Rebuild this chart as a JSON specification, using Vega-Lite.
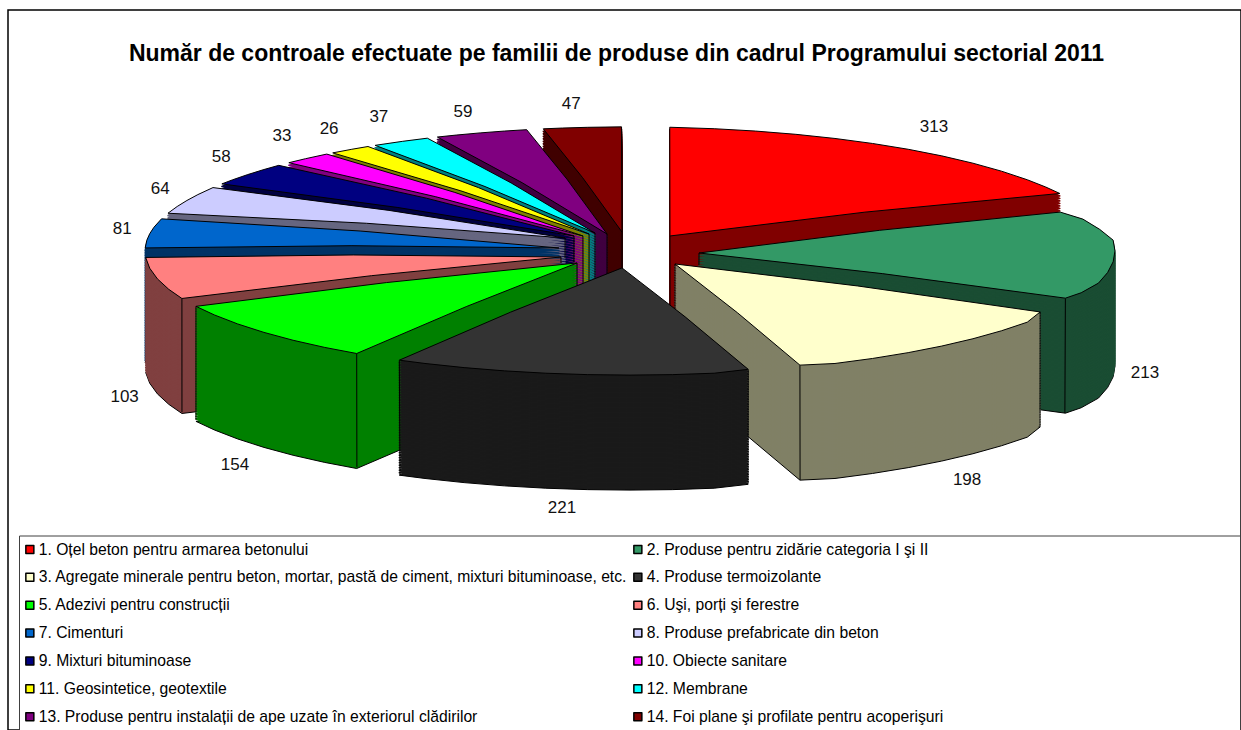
{
"$schema":"https://vega.github.io/schema/vega-lite/v6.json",
"autosize":"none",
"padding":{"left":8,"top":10,"right":0,"bottom":0},
"width":1233,"height":720,
"background":"white",
"view":{"stroke":"black","strokeWidth":1.5},
"title":{"text":"Număr de controale efectuate pe familii de produse din cadrul Programului sectorial 2011","font":"Liberation Sans","fontSize":23,"fontWeight":"bold","color":"black","anchor":"middle","frame":"group","offset":0,"baseline":"middle","dx":-8,"dy":67},
"config":{"view":{"stroke":"black","strokeWidth":1.5},"geoshape":{"strokeJoin":"round","strokeWidth":1.5},"projection":{"type":"orthographic","rotate":[0,-14.83],"scale":9267}},
"datasets":{"slices":[
{"name":"1. Oțel beton pentru armarea betonului","value":313,"labelLon":149.05,"labelLat":86.343,"geo":{"type":"Polygon","coordinates":[[[105.2,89.744],[175.3,87],[170,87],[165,87],[160,87],[155,87],[150,87],[145,87],[140,87],[135,87],[130,87],[125,87],[121,87],[117.6,87],[105.2,89.744]]]}},
{"name":"2. Produse pentru zidărie categoria I şi II","value":213,"labelLon":49.96,"labelLat":85.837,"geo":{"type":"Polygon","coordinates":[[[51.8,89.457],[108.75,87.19],[105,87.1],[100,87.05],[95,87],[90,87],[85,87],[80,87],[75,87],[70,87.03],[66.8,87.07],[51.8,89.457]]]}},
{"name":"3. Agregate minerale pentru beton, mortar, pastă de ciment, mixturi bituminoase, etc.","value":198,"labelLon":23.1,"labelLat":84.68,"geo":{"type":"Polygon","coordinates":[[[25,89.342],[59.65,87.06],[55,87],[50,87],[45,87],[40,87],[35,87],[30,87],[25,87],[20.8,87.04],[25,89.342]]]}},
{"name":"4. Produse termoizolante","value":221,"labelLon":-4.38,"labelLat":84.48,"geo":{"type":"Polygon","coordinates":[[[-4.1,89.308],[14.3,87.04],[10,87],[5,87],[0,87],[-5,87],[-10,87],[-15,87],[-20,87],[-25,87],[-28.4,87],[-4.1,89.308]]]}},
{"name":"5. Adezivi pentru construcții","value":154,"labelLon":-28.06,"labelLat":84.8,"geo":{"type":"Polygon","coordinates":[[[-29.8,89.341],[-34.3,87],[-39,87],[-44,87],[-49,87],[-54,87],[-59,87],[-63.5,87],[-29.8,89.341]]]}},
{"name":"6. Uşi, porți şi ferestre","value":103,"labelLon":-44.58,"labelLat":85.544,"geo":{"type":"Polygon","coordinates":[[[-44.8,89.394],[-67.5,87],[-72,87],[-77,87],[-82,87],[-87,87],[-44.8,89.394]]]}},
{"name":"7. Cimenturi","value":81,"labelLon":-100.26,"labelLat":86.808,"geo":{"type":"Polygon","coordinates":[[[-63.8,89.51],[-91.4,87],[-95,87],[-98,87],[-101,87],[-105,87],[-63.8,89.51]]]}},
{"name":"8. Produse prefabricate din beton","value":64,"labelLon":-118.2,"labelLat":86.703,"geo":{"type":"Polygon","coordinates":[[[-93.2,89.598],[-107.7,87],[-111,87],[-114,87],[-117,87],[-120.7,87],[-93.2,89.598]]]}},
{"name":"9. Mixturi bituminoase","value":58,"labelLon":-133.1,"labelLat":86.536,"geo":{"type":"Polygon","coordinates":[[[-101.3,89.647],[-122.7,87],[-125,87],[-128,87],[-131,87],[-133.6,87],[-101.3,89.647]]]}},
{"name":"10. Obiecte sanitare","value":33,"labelLon":-143.5,"labelLat":86.38,"geo":{"type":"Polygon","coordinates":[[[-103.2,89.701],[-135.3,87],[-138,87],[-141.3,87],[-103.2,89.701]]]}},
{"name":"11. Geosintetice, geotextile","value":26,"labelLon":-148.94,"labelLat":86.392,"geo":{"type":"Polygon","coordinates":[[[-114.5,89.722],[-142.2,87],[-145,87],[-147.3,87],[-114.5,89.722]]]}},
{"name":"12. Membrane","value":37,"labelLon":-155.43,"labelLat":86.263,"geo":{"type":"Polygon","coordinates":[[[-122.7,89.743],[-148.3,87],[-152,87],[-155.3,87],[-122.7,89.743]]]}},
{"name":"13. Produse pentru instalații de ape uzate în exteriorul clădirilor","value":59,"labelLon":-163.53,"labelLat":86.354,"geo":{"type":"Polygon","coordinates":[[[-128.8,89.818],[-156.6,87],[-159,87],[-162,87],[-165,87],[-167.7,87],[-128.8,89.818]]]}},
{"name":"14. Foi plane şi profilate pentru acoperişuri","value":47,"labelLon":-174.4,"labelLat":86.27,"geo":{"type":"Polygon","coordinates":[[[-163,89.831],[-169.7,87],[-172,87],[-175,87],[-179,87],[-163,89.831]]]}}
],
"edges":[
{"geo":{"type":"LineString","coordinates":[[66.8,87.07],[37.1,85.538]]}},
{"geo":{"type":"LineString","coordinates":[[59.65,87.06],[33.4,85.39]]}},
{"geo":{"type":"LineString","coordinates":[[20.8,87.04],[11.94,84.911]]}},
{"geo":{"type":"LineString","coordinates":[[14.3,87.04],[8.2,84.88]]}},
{"geo":{"type":"LineString","coordinates":[[-28.4,87],[-16.31,84.93]]}},
{"geo":{"type":"LineString","coordinates":[[-34.3,87],[-19.78,85.004]]}},
{"geo":{"type":"LineString","coordinates":[[-63.5,87],[-36.04,85.434]]}},
{"geo":{"type":"LineString","coordinates":[[-67.5,87],[-38.17,85.513]]}},
{"geo":{"type":"LineString","coordinates":[[105.2,89.744],[8.85,88.392]]}},
{"geo":{"type":"LineString","coordinates":[[51.8,89.457],[34.7,89.251]]}},
{"geo":{"type":"LineString","coordinates":[[25,89.342],[9.67,88.345]]}},
{"geo":{"type":"LineString","coordinates":[[-163,89.831],[-4.1,89.308]]}},
{"geo":{"type":"LineString","coordinates":[[-128.8,89.818],[-9,89.092]]}},
{"geo":{"type":"LineString","coordinates":[[-122.7,89.743],[-12.09,88.967]]}},
{"geo":{"type":"LineString","coordinates":[[-114.5,89.722],[-13.24,88.893]]}},
{"geo":{"type":"LineString","coordinates":[[-103.2,89.701],[-14.5,88.841]]}},
{"geo":{"type":"LineString","coordinates":[[-101.3,89.647],[-32.3,89.351]]}},
{"geo":{"type":"LineString","coordinates":[[-93.2,89.598],[-41.5,89.394]]}},
{"geo":{"type":"LineString","coordinates":[[-29.8,89.341],[-16.6,88.854]]}},
{"geo":{"type":"LineString","coordinates":[[-44.8,89.394],[-36.8,89.288]]}}
]},
"data":{"name":"slices"},
"layer":[
{"encoding":{"shape":{"field":"geo","type":"geojson"},
 "fill":{"field":"name","type":"nominal","sort":null,"legend":null,"scale":{"range":["#800000","#1a4d33","#808066","#1a1a1a","#008000","#804040","#003366","#666680","#000040","#800080","#808000","#008080","#400040","#400000"]}},
 "stroke":{"field":"name","type":"nominal","sort":null,"legend":null,"scale":{"range":["#800000","#1a4d33","#808066","#1a1a1a","#008000","#804040","#003366","#666680","#000040","#800080","#808000","#008080","#400040","#400000"]}}},
"layer":[
{"mark":{"type":"geoshape","stroke":"black","strokeWidth":1},"encoding":{"stroke":{"value":"black"}},"projection":{"translate":[622,9302],"precision":0.701}},
{"mark":"geoshape","projection":{"translate":[622,9299.5],"precision":0.702}},
{"mark":"geoshape","projection":{"translate":[622,9297],"precision":0.703}},
{"mark":"geoshape","projection":{"translate":[622,9294.5],"precision":0.704}},
{"mark":"geoshape","projection":{"translate":[622,9292],"precision":0.705}},
{"mark":"geoshape","projection":{"translate":[622,9289.5],"precision":0.706}},
{"mark":"geoshape","projection":{"translate":[622,9287],"precision":0.707}},
{"mark":"geoshape","projection":{"translate":[622,9284.5],"precision":0.708}},
{"mark":"geoshape","projection":{"translate":[622,9282],"precision":0.709}},
{"mark":"geoshape","projection":{"translate":[622,9279.5],"precision":0.71}},
{"mark":"geoshape","projection":{"translate":[622,9277],"precision":0.711}},
{"mark":"geoshape","projection":{"translate":[622,9274.5],"precision":0.712}},
{"mark":"geoshape","projection":{"translate":[622,9272],"precision":0.713}},
{"mark":"geoshape","projection":{"translate":[622,9269.5],"precision":0.714}},
{"mark":"geoshape","projection":{"translate":[622,9267],"precision":0.715}},
{"mark":"geoshape","projection":{"translate":[622,9264.5],"precision":0.716}},
{"mark":"geoshape","projection":{"translate":[622,9262],"precision":0.717}},
{"mark":"geoshape","projection":{"translate":[622,9259.5],"precision":0.718}},
{"mark":"geoshape","projection":{"translate":[622,9257],"precision":0.719}},
{"mark":"geoshape","projection":{"translate":[622,9254.5],"precision":0.72}},
{"mark":"geoshape","projection":{"translate":[622,9252],"precision":0.721}},
{"mark":"geoshape","projection":{"translate":[622,9249.5],"precision":0.722}},
{"mark":"geoshape","projection":{"translate":[622,9247],"precision":0.723}},
{"mark":"geoshape","projection":{"translate":[622,9244.5],"precision":0.724}},
{"mark":"geoshape","projection":{"translate":[622,9242],"precision":0.725}},
{"mark":"geoshape","projection":{"translate":[622,9239.5],"precision":0.726}},
{"mark":"geoshape","projection":{"translate":[622,9237],"precision":0.727}},
{"mark":"geoshape","projection":{"translate":[622,9234.5],"precision":0.728}},
{"mark":"geoshape","projection":{"translate":[622,9232],"precision":0.729}},
{"mark":"geoshape","projection":{"translate":[622,9229.5],"precision":0.73}},
{"mark":"geoshape","projection":{"translate":[622,9227],"precision":0.731}},
{"mark":"geoshape","projection":{"translate":[622,9224.5],"precision":0.732}},
{"mark":"geoshape","projection":{"translate":[622,9222],"precision":0.733}},
{"mark":"geoshape","projection":{"translate":[622,9219.5],"precision":0.734}},
{"mark":"geoshape","projection":{"translate":[622,9217],"precision":0.735}},
{"mark":"geoshape","projection":{"translate":[622,9214.5],"precision":0.736}},
{"mark":"geoshape","projection":{"translate":[622,9212],"precision":0.737}},
{"mark":"geoshape","projection":{"translate":[622,9209.5],"precision":0.738}},
{"mark":"geoshape","projection":{"translate":[622,9207],"precision":0.739}},
{"mark":"geoshape","projection":{"translate":[622,9204.5],"precision":0.74}},
{"mark":"geoshape","projection":{"translate":[622,9202],"precision":0.741}},
{"mark":"geoshape","projection":{"translate":[622,9199.5],"precision":0.742}},
{"mark":"geoshape","projection":{"translate":[622,9197],"precision":0.743}},
{"mark":"geoshape","projection":{"translate":[622,9194.5],"precision":0.744}},
{"mark":"geoshape","projection":{"translate":[622,9192],"precision":0.745}},
{"mark":"geoshape","projection":{"translate":[622,9189.5],"precision":0.746}}
]},
{"data":{"name":"edges"},
 "mark":{"type":"geoshape","filled":false,"stroke":"black","strokeWidth":1},
 "projection":{"translate":[622,9187],"precision":0.747},
 "encoding":{"shape":{"field":"geo","type":"geojson"}}},
{"mark":{"type":"geoshape","stroke":"black","strokeWidth":1},
 "projection":{"translate":[622,9187],"precision":0.748},
 "encoding":{"shape":{"field":"geo","type":"geojson"},
 "color":{"field":"name","type":"nominal","sort":null,"scale":{"range":["#ff0000","#339966","#ffffcc","#333333","#00ff00","#ff8080","#0066cc","#ccccff","#000080","#ff00ff","#ffff00","#00ffff","#800080","#800000"]},
 "legend":{"orient":"none","legendX":11,"legendY":525.5,"direction":"horizontal","columns":2,"title":"\u00a0","titleOrient":"right","titlePadding":291,"titleFontSize":12,"padding":6,"strokeColor":"#404040","fillColor":"white","symbolType":"square","symbolSize":64,"symbolStrokeColor":"black","symbolStrokeWidth":1,"symbolOpacity":1,"symbolOffset":-3,"labelFont":"Liberation Sans","labelFontSize":15.7,"labelColor":"black","labelLimit":800,"labelOffset":1,"rowPadding":10.9,"columnPadding":5}}}},
{"mark":{"type":"text","font":"Liberation Sans","fontSize":17,"color":"#111111","align":"center","baseline":"middle"},
 "projection":{"translate":[622,9187],"precision":0.749},
 "encoding":{"longitude":{"field":"labelLon","type":"quantitative"},"latitude":{"field":"labelLat","type":"quantitative"},"text":{"field":"value","type":"quantitative"}}}
]
}
